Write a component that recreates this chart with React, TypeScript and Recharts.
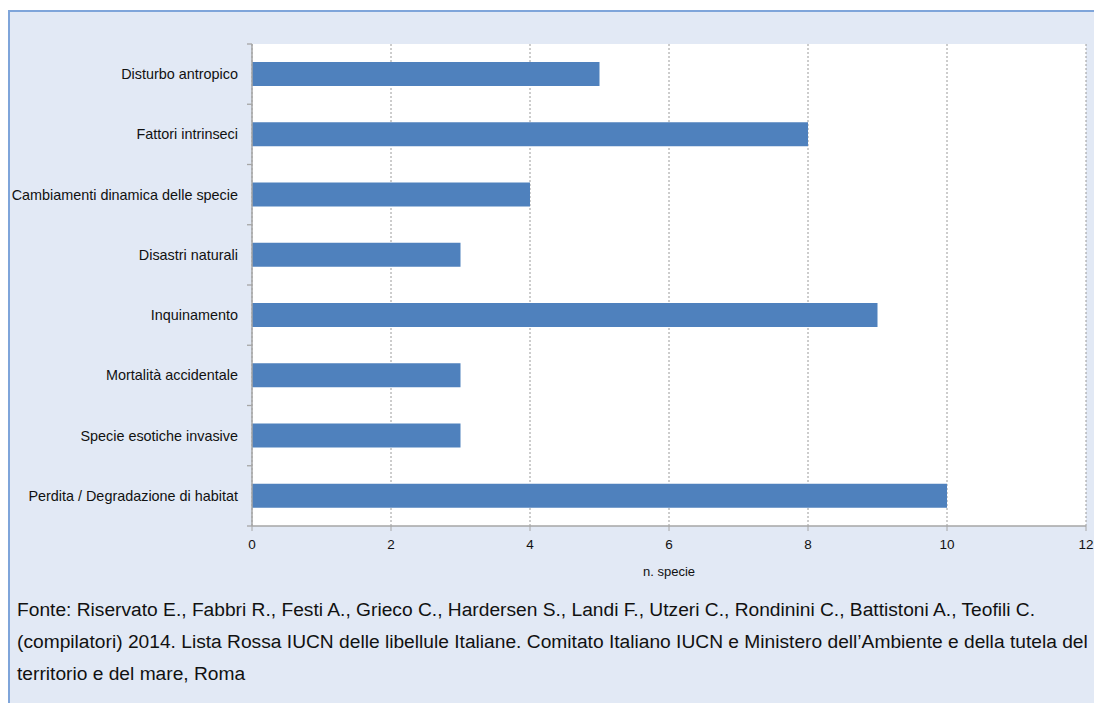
import React from "react";
import { BarChart, Bar, XAxis, YAxis, CartesianGrid } from "recharts";

const categories = [
  "Disturbo antropico",
  "Fattori intrinseci",
  "Cambiamenti dinamica delle specie",
  "Disastri naturali",
  "Inquinamento",
  "Mortalità accidentale",
  "Specie esotiche invasive",
  "Perdita / Degradazione di habitat",
];
const speciesCount = [5, 8, 4, 3, 9, 3, 3, 10];
const xTicks = [0, 2, 4, 6, 8, 10, 12];

const footerLines = [
  "Fonte: Riservato E., Fabbri R., Festi A., Grieco C., Hardersen S., Landi F., Utzeri C., Rondinini C., Battistoni A., Teofili C.",
  "(compilatori) 2014. Lista Rossa IUCN delle libellule Italiane. Comitato Italiano IUCN e Ministero dell\u2019Ambiente e della tutela del",
  "territorio e del mare, Roma",
];

const data = categories.map((name, i) => ({ name, value: speciesCount[i] }));

const FONT = '"Liberation Sans", Arial, sans-serif';
const CHART_W = 1084;
const CHART_H = 574;
const MARGIN_TOP = 32;
const XAXIS_H = 60;
const band = (CHART_H - MARGIN_TOP - XAXIS_H) / categories.length;

const CategoryTick = (props: any) => {
  const { x, y, payload, index } = props;
  const last = index === categories.length - 1;
  return (
    <g>
      <line x1={x - 5} x2={x} y1={y - band / 2} y2={y - band / 2} stroke="#a6a6a6" strokeWidth={1.3} />
      {last && <line x1={x - 5} x2={x} y1={y + band / 2} y2={y + band / 2} stroke="#a6a6a6" strokeWidth={1.3} />}
      <text x={x - 14} y={y} dy="0.35em" textAnchor="end" fontSize={14.4} fill="#111" fontFamily={FONT}>
        {payload.value}
      </text>
    </g>
  );
};

export default function App() {
  return (
    <div
      style={{
        position: "fixed",
        left: 8,
        top: 10,
        width: 1086,
        height: 693,
        boxSizing: "border-box",
        background: "#e2e9f5",
        borderTop: "2px solid #7fa5da",
        borderLeft: "2px solid #7fa5da",
        overflow: "hidden",
        fontFamily: FONT,
      }}
    >
      <BarChart
        width={CHART_W}
        height={CHART_H}
        data={data}
        layout="vertical"
        margin={{ top: MARGIN_TOP, right: 8, left: 0, bottom: 0 }}
      >
        <CartesianGrid horizontal={false} vertical strokeDasharray="2 2" stroke="#9a9a9a" fill="#ffffff" />
        <XAxis
          type="number"
          domain={[0, 12]}
          ticks={xTicks}
          height={XAXIS_H}
          tickSize={5}
          tickMargin={8}
          axisLine={{ stroke: "#a6a6a6", strokeWidth: 1.5 }}
          tickLine={{ stroke: "#a6a6a6" }}
          tick={{ fontSize: 13.5, fill: "#111", fontFamily: FONT }}
          label={{ value: "n. specie", position: "insideBottom", offset: 10, fontSize: 13, fill: "#111", fontFamily: FONT }}
        />
        <YAxis
          type="category"
          dataKey="name"
          width={242}
          tickLine={false}
          tickSize={0}
          tickMargin={0}
          axisLine={{ stroke: "#a6a6a6", strokeWidth: 1.5 }}
          tick={<CategoryTick />}
          interval={0}
        />
        <Bar dataKey="value" fill="#4f81bd" barSize={24} isAnimationActive={false} />
      </BarChart>
      <div style={{ marginTop: 8, paddingLeft: 7, fontSize: 19.2, lineHeight: "32px", color: "#111", whiteSpace: "nowrap" }}>
        {footerLines.map((l, i) => (
          <div key={i}>{l}</div>
        ))}
      </div>
    </div>
  );
}
